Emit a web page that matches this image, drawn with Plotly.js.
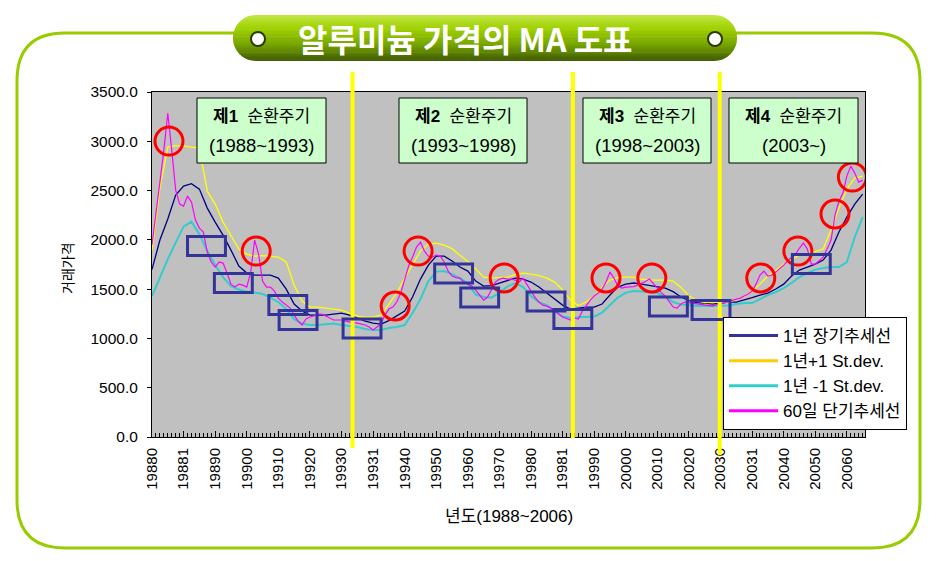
<!DOCTYPE html>
<html>
<head>
<meta charset="utf-8">
<script src="https://cdn.plot.ly/plotly-3.0.1.min.js"></script>
<style>html,body{margin:0;padding:0;background:#fff;}#chart{width:936px;height:561px;}</style>
</head>
<body>
<div id="chart"></div>
<script>
// ---------------- DATA ----------------
const tickLabels = ['19880','19881','19890','19900','19910','19920','19930','19931','19940','19950','19960','19970',
  '19980','19981','19990','20000','20010','20020','20030','20031','20040','20050','20060'];

const seriesNames = ['1년 장기추세선', '1년+1 St.dev.', '1년 -1 St.dev.', '60일 단기추세선'];

// 1년 장기추세선 (navy)
const longTrend = [1700,1998,2211,2454,2545,2570,2515,2322,2180,2048,
  1896,1734,1663,1643,1643,1643,1612,1500,1349,1278,
  1237,1237,1237,1247,1257,1237,1207,1176,1156,1146,
  1181,1227,1278,1420,1602,1744,1835,1835,1785,1724,
  1683,1582,1531,1536,1562,1592,1612,1602,1572,1521,
  1460,1399,1338,1298,1308,1318,1318,1349,1440,1521,
  1551,1562,1551,1536,1521,1511,1475,1420,1384,1364,
  1359,1349,1359,1369,1369,1389,1414,1440,1460,1501,
  1551,1633,1694,1724,1754,1795,1896,2079,2231,2363,
  2464];

// 1년 +1 St.dev. (yellow)
const plusSD = [1900,2525,2941,2956,2951,2941,2930,2494,2363,2180,
  2048,1906,1856,1835,1840,1835,1825,1775,1541,1379,
  1318,1318,1308,1298,1288,1257,1227,1217,1217,1237,
  1349,1460,1612,1744,1886,1957,1967,1947,1911,1845,
  1780,1704,1622,1612,1617,1622,1648,1663,1653,1638,
  1612,1572,1491,1389,1333,1369,1430,1521,1592,1617,
  1622,1622,1602,1592,1592,1592,1582,1516,1430,1384,
  1364,1364,1369,1369,1394,1425,1480,1551,1633,1688,
  1754,1805,1846,1861,1881,1906,2099,2322,2515,2626,
  2647];

// 1년 -1 St.dev. (cyan)
const minusSD = [1430,1622,1805,1972,2134,2185,2058,1886,1744,1622,
  1531,1496,1475,1465,1450,1414,1369,1298,1196,1151,
  1136,1136,1146,1151,1136,1126,1116,1095,1085,1085,
  1105,1116,1136,1257,1399,1582,1678,1683,1653,1612,
  1557,1445,1420,1414,1465,1526,1562,1521,1430,1369,
  1338,1278,1222,1207,1217,1217,1222,1262,1338,1414,
  1465,1480,1475,1465,1460,1425,1369,1343,1333,1328,
  1328,1328,1328,1333,1349,1359,1359,1399,1440,1470,
  1511,1562,1622,1663,1698,1714,1724,1724,1775,2028,
  2231];

// 60일 단기추세선 (magenta), twice as dense
const shortTrend = [1950,2251,2586,2910,3285,2910,2505,2363,2342,2444,
  2383,2200,2119,2079,1876,1775,1724,1775,1764,1663,
  1551,1521,1551,1541,1521,1673,1998,1856,1582,1521,
  1521,1480,1409,1369,1338,1308,1237,1176,1136,1197,
  1217,1227,1247,1247,1227,1207,1187,1187,1187,1176,
  1166,1161,1156,1146,1136,1116,1085,1116,1146,1237,
  1298,1318,1369,1460,1592,1734,1825,1927,1977,1886,
  1835,1825,1846,1835,1775,1683,1633,1617,1612,1572,
  1551,1531,1491,1440,1389,1420,1500,1572,1602,1612,
  1602,1602,1592,1572,1612,1541,1480,1420,1369,1338,
  1328,1308,1278,1247,1217,1202,1187,1207,1197,1278,
  1338,1389,1430,1460,1500,1572,1673,1612,1531,1511,
  1521,1521,1526,1541,1556,1577,1602,1556,1506,1465,
  1430,1379,1318,1308,1349,1369,1364,1359,1349,1343,
  1338,1333,1328,1343,1359,1364,1374,1389,1399,1409,
  1430,1450,1480,1551,1643,1683,1633,1643,1673,1704,
  1744,1785,1825,1856,1917,1967,1906,1754,1754,1785,
  1825,1906,1998,2251,2393,2474,2647,2748,2677,2586,
  2606];

// highlighted turning points (red circles)
const circX = [2.15, 13.2, 30.8, 33.7, 44.6, 57.5, 63.3, 77.1, 81.8, 86.5, 88.7];
const circY = [3002, 1886, 1329, 1886, 1613, 1613, 1613, 1613, 1886, 2262, 2637];

// highlighted support zones (blue boxes), centres
const boxX = [6.9, 10.3, 17.2, 18.5, 26.6, 38.2, 41.5, 49.9, 53.3, 65.4, 70.8, 83.5];
const boxY = [1937, 1562, 1339, 1187, 1100, 1658, 1415, 1374, 1197, 1324, 1288, 1755];

// cycle boundaries (x index) and labels
const cycleBounds = [25.4, 53.3, 71.9];
const cycleTitles = ['제1', '제2', '제3', '제4'];
const cyclePeriods = ['(1988~1993)', '(1993~1998)', '(1998~2003)', '(2003~)'];

// ---------------- LAYOUT HELPERS ----------------
const L = 152, R = 865, T = 92, B = 437;
const px2x = p => (p - L) / (R - L);
const px2y = p => (B - p) / (B - T);
const P = (x, y) => px2x(x) + ',' + px2y(y);

const xIdx = longTrend.map((_, i) => i);
const xFine = shortTrend.map((_, j) => j * 0.5);
const tickVals = tickLabels.map((_, k) => k * 4);

const colors = ['#000080', '#ffff00', '#33cccc', '#ff00ff'];
const widths = [1.3, 1.3, 2, 1.2];

const traces = [];
[longTrend, plusSD, minusSD].forEach((ys, k) => {
  traces.push({x: xIdx, y: ys, type: 'scatter', mode: 'lines', line: {color: colors[k], width: widths[k]},
    showlegend: false, hoverinfo: 'skip'});
});
traces.push({x: xFine, y: shortTrend, type: 'scatter', mode: 'lines', line: {color: colors[3], width: widths[3]},
  showlegend: false, hoverinfo: 'skip'});
traces.push({x: circX, y: circY, type: 'scatter', mode: 'markers',
  marker: {symbol: 'circle-open', size: 28, color: '#ff0000', line: {width: 3, color: '#ff0000'}},
  showlegend: false, hoverinfo: 'skip'});
// legend entries (thick sample lines)
const legendColors = ['#333399', '#ffcc00', '#33cccc', '#ff00ff'];
seriesNames.forEach((n, k) => {
  traces.push({x: [null], y: [null], type: 'scatter', mode: 'lines', name: n,
    line: {color: legendColors[k], width: 3}, legendgroup: 'g' + k, hoverinfo: 'skip'});
});

const shapes = [];
// outer rounded frame
(function () {
  const x0 = 17, x1 = 920, y0 = 33, y1 = 548, r = 48;
  const path = `M${P(x0 + r, y0)} L${P(x1 - r, y0)} Q${P(x1, y0)} ${P(x1, y0 + r)} L${P(x1, y1 - r)} Q${P(x1, y1)} ${P(x1 - r, y1)} ` +
    `L${P(x0 + r, y1)} Q${P(x0, y1)} ${P(x0, y1 - r)} L${P(x0, y0 + r)} Q${P(x0, y0)} ${P(x0 + r, y0)} Z`;
  shapes.push({type: 'path', xref: 'paper', yref: 'paper', path: path, line: {color: '#99cc00', width: 3}, layer: 'below'});
})();
// title banner (gradient pill)
(function () {
  const x0 = 233, x1 = 737, y0 = 15, y1 = 61, n = 26;
  const r = (y1 - y0) / 2, cy = y0 + r, cxL = x0 + r, cxR = x1 - r;
  const stops = [[0, [195, 232, 70]], [0.3, [158, 208, 0]], [0.65, [118, 164, 0]], [1, [62, 88, 0]]];
  function col(t) {
    for (let s = 1; s < stops.length; s++) {
      if (t <= stops[s][0]) {
        const a = stops[s - 1], b = stops[s], u = (t - a[0]) / (b[0] - a[0]);
        const c = a[1].map((v, i) => Math.round(v + (b[1][i] - v) * u));
        return `rgb(${c[0]},${c[1]},${c[2]})`;
      }
    }
    return 'rgb(62,88,0)';
  }
  const half = y => Math.sqrt(Math.max(0, r * r - (y - cy) * (y - cy)));
  for (let k = 0; k < n; k++) {
    const ya = y0 + k * (y1 - y0) / n, yb = Math.min(y1, ya + (y1 - y0) / n + 0.6);
    const pts = [];
    for (let s = 0; s <= 4; s++) { const y = ya + (yb - ya) * s / 4; pts.push([cxL - half(y), y]); }
    for (let s = 4; s >= 0; s--) { const y = ya + (yb - ya) * s / 4; pts.push([cxR + half(y), y]); }
    const path = 'M' + pts.map(p => P(p[0], p[1])).join(' L') + ' Z';
    shapes.push({type: 'path', xref: 'paper', yref: 'paper', path: path, fillcolor: col((k + 0.5) / n),
      line: {width: 0}, layer: 'above'});
  }
  [258, 715].forEach(cx => {
    shapes.push({type: 'circle', xref: 'paper', yref: 'paper', xsizemode: 'pixel', ysizemode: 'pixel',
      xanchor: px2x(cx), yanchor: px2y(39), x0: -7, x1: 7, y0: -7, y1: 7,
      fillcolor: '#ffffff', line: {color: '#2a3a00', width: 2}, layer: 'above'});
  });
})();
// cycle divider lines
const lineBottoms = [448, 438, 455];
cycleBounds.forEach((b, k) => {
  shapes.push({type: 'line', xref: 'x', yref: 'paper', x0: b, x1: b, y0: px2y(lineBottoms[k]), y1: px2y(72),
    line: {color: '#ffff00', width: 4}, layer: 'above'});
});
// blue boxes
const boxHalfW = 2.4, boxHalfH = 96;
boxX.forEach((bx, k) => {
  shapes.push({type: 'rect', xref: 'x', yref: 'y', x0: bx - boxHalfW, x1: bx + boxHalfW,
    y0: boxY[k] - boxHalfH, y1: boxY[k] + boxHalfH, line: {color: '#333399', width: 3}, layer: 'above'});
});
// cycle label boxes
const cycBoxL = [197, 399, 583, 729], cycBoxR = [326, 527, 711, 858];
const annotations = [];
const ann = o => Object.assign({xref: 'paper', yref: 'paper', showarrow: false, xanchor: 'center', yanchor: 'middle'}, o);
cycBoxL.forEach((xl, k) => {
  shapes.push({type: 'rect', xref: 'paper', yref: 'paper', x0: px2x(xl), x1: px2x(cycBoxR[k]),
    y0: px2y(163), y1: px2y(98), fillcolor: '#ccffcc', line: {color: '#000', width: 1}, layer: 'above'});
  const cx = px2x((xl + cycBoxR[k]) / 2);
  annotations.push(ann({x: cx, y: px2y(116), text: '<b>' + cycleTitles[k] + '</b>  순환주기', font: {size: 17, color: '#000'}}));
  annotations.push(ann({x: cx, y: px2y(145), text: cyclePeriods[k], font: {size: 18.5, color: '#000'}}));
});
annotations.push(ann({x: px2x(465), y: px2y(38), text: '<b>알루미늄 가격의 MA 도표</b>',
  font: {family: 'Noto Sans CJK KR', size: 32, color: '#ffffff'}}));
annotations.push(ann({x: px2x(68), y: px2y(268), textangle: -90, text: '거래가격', font: {size: 14, color: '#000'}}));
annotations.push(ann({x: px2x(509), y: px2y(516), text: '년도(1988~2006)', font: {size: 17, color: '#000'}}));

const layout = {
  width: 936, height: 561,
  margin: {l: L, r: 936 - R, t: T, b: 561 - B, pad: 0},
  paper_bgcolor: '#ffffff', plot_bgcolor: '#c0c0c0',
  font: {family: 'Liberation Sans, Noto Sans CJK KR, sans-serif', color: '#000'},
  xaxis: {range: [0, 90.3], tickmode: 'array', tickvals: tickVals, ticktext: tickLabels, tickangle: -90,
    ticks: 'inside', ticklen: 6, tickcolor: '#000', showline: true, linecolor: '#000', linewidth: 1, mirror: true,
    showgrid: false, zeroline: false, tickfont: {size: 15}, ticklabelstandoff: 4,
    minor: {tickmode: 'linear', tick0: 0, dtick: 0.5, ticks: 'inside', ticklen: 4, tickcolor: '#000', showgrid: false}},
  yaxis: {range: [0, 3500], tickmode: 'linear', tick0: 0, dtick: 500, tickformat: '.1f', ticks: 'outside', ticklen: 4,
    tickcolor: '#000', showline: true, linecolor: '#000', linewidth: 1, mirror: true, showgrid: false, zeroline: false,
    tickfont: {size: 15.5}, ticklabelstandoff: 6},
  legend: {x: px2x(723), y: px2y(317), xanchor: 'left', yanchor: 'top', bgcolor: '#ffffff', bordercolor: '#000',
    borderwidth: 1, font: {size: 17}, traceorder: 'grouped', tracegroupgap: 0, itemwidth: 49},
  shapes: shapes,
  annotations: annotations,
  showlegend: true
};

Plotly.newPlot('chart', traces, layout, {staticPlot: true, displayModeBar: false});
</script>
</body>
</html>
